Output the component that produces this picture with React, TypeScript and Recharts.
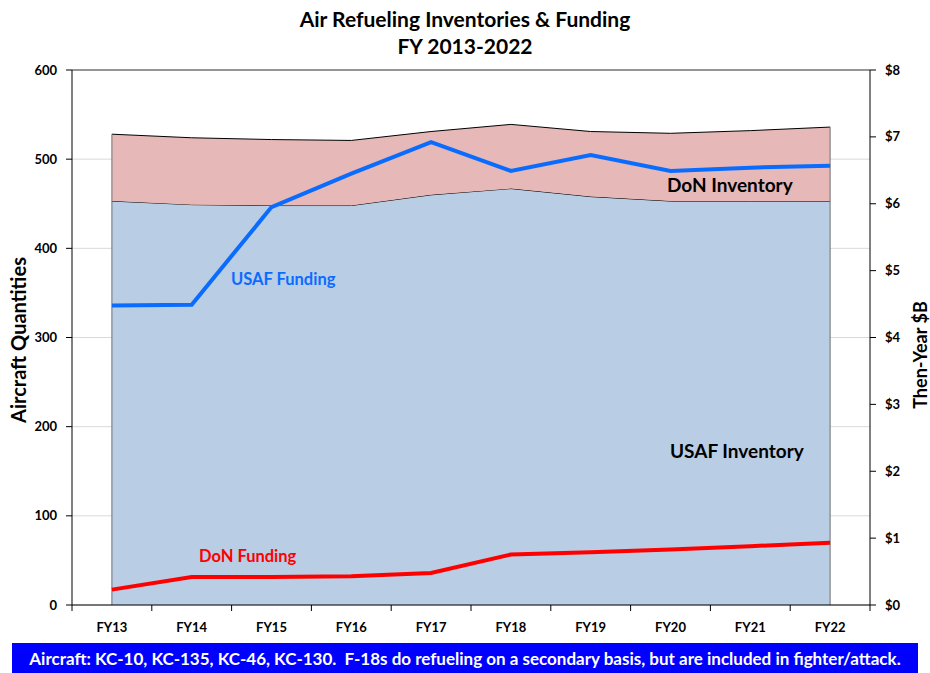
import React from 'react'
import {
  ComposedChart, Area, Line, XAxis, YAxis, CartesianGrid, ReferenceLine,
} from 'recharts'

const years = ['FY13', 'FY14', 'FY15', 'FY16', 'FY17', 'FY18', 'FY19', 'FY20', 'FY21', 'FY22']
const usafInventory = [453, 449, 448, 448, 460, 467, 458, 453, 453, 453]
const donInventory = [75, 75, 74, 73, 71, 72, 73, 76, 79, 83]
const usafFunding = [4.48, 4.49, 5.95, 6.45, 6.92, 6.49, 6.73, 6.49, 6.54, 6.57]
const donFunding = [0.23, 0.42, 0.42, 0.43, 0.48, 0.755, 0.79, 0.83, 0.88, 0.93]
const qtyTicks = [0, 100, 200, 300, 400, 500, 600]
const dollarTicks = [0, 1, 2, 3, 4, 5, 6, 7, 8]

const data = years.map((fy, i) => ({
  fy,
  usafInv: usafInventory[i],
  donInv: donInventory[i],
  usafFund: usafFunding[i],
  donFund: donFunding[i],
}))

const FONT = 'Lato, "Open Sans", sans-serif'
const W = 930
const H = 673
const PLOT_LEFT = 72
const PLOT_RIGHT = 870
const PLOT_TOP = 70
const PLOT_BOTTOM = 605
const BAND = (PLOT_RIGHT - PLOT_LEFT) / years.length

const XTick = (props: any) => {
  const { x, index } = props
  const axisY = PLOT_BOTTOM
  return (
    <g>
      <line x1={x - BAND / 2} x2={x - BAND / 2} y1={axisY} y2={axisY + 6} stroke="#000" />
      {index === years.length - 1 && (
        <line x1={x + BAND / 2} x2={x + BAND / 2} y1={axisY} y2={axisY + 6} stroke="#000" />
      )}
      <text x={x} y={axisY + 27} textAnchor="middle" fontFamily={FONT} fontWeight={700} fontSize={13} fill="#000">
        {props.payload.value}
      </text>
    </g>
  )
}

const label = (text: string, left: number, top: number, color: string, size = 16) => (
  <div style={{
    position: 'absolute', left, top, color, fontFamily: FONT, fontWeight: 700,
    fontSize: size, whiteSpace: 'nowrap', lineHeight: 1,
  }}>{text}</div>
)

export default function App() {
  const first = data[0]
  const last = data[data.length - 1]
  return (
    <div style={{ position: 'absolute', left: 0, top: 0, width: W, height: H, background: '#fff', overflow: 'hidden' }}>
      <div style={{
        position: 'absolute', left: 0, width: W, top: 5, textAlign: 'center',
        fontFamily: FONT, fontWeight: 700, fontSize: 21, lineHeight: '27px', color: '#000',
      }}>
        <div>Air Refueling Inventories &amp; Funding</div>
        <div>FY 2013-2022</div>
      </div>

      <div style={{ position: 'absolute', left: 0, top: 0 }}>
        <ComposedChart
          width={W}
          height={H}
          data={data}
          margin={{ top: PLOT_TOP, right: 0, bottom: 0, left: 0 }}
        >
          <CartesianGrid yAxisId="qty" vertical={false} stroke="#D9D9D9" />
          <XAxis
            dataKey="fy"
            height={H - PLOT_BOTTOM}
            axisLine={{ stroke: '#000' }}
            tickLine={false}
            tick={<XTick />}
            interval={0}
            padding={{ left: BAND / 2, right: BAND / 2 }}
          />
          <YAxis
            yAxisId="qty"
            width={PLOT_LEFT}
            domain={[0, 600]}
            ticks={qtyTicks}
            axisLine={{ stroke: '#000' }}
            tickLine={{ stroke: '#000' }}
            tickSize={6}
            tickMargin={9}
            tick={{ fontFamily: FONT, fontWeight: 700, fontSize: 13, fill: '#000' }}
          />
          <YAxis
            yAxisId="usd"
            orientation="right"
            width={W - PLOT_RIGHT}
            domain={[0, 8]}
            ticks={dollarTicks}
            axisLine={{ stroke: '#000' }}
            tickLine={{ stroke: '#000' }}
            tickSize={6}
            tickMargin={9}
            tickFormatter={(v) => `$${v}`}
            tick={{ fontFamily: FONT, fontWeight: 700, fontSize: 13, fill: '#000', textAnchor: 'start' }}
          />
          <ReferenceLine yAxisId="qty" y={600} stroke="#404040" />
          <Area
            yAxisId="qty" type="linear" dataKey="usafInv" stackId="inv"
            fill="#B9CDE5" fillOpacity={1} stroke="#000" strokeWidth={1}
            isAnimationActive={false}
          />
          <Area
            yAxisId="qty" type="linear" dataKey="donInv" stackId="inv"
            fill="#E6B9B8" fillOpacity={1} stroke="#000" strokeWidth={1}
            isAnimationActive={false}
          />
          <ReferenceLine
            yAxisId="qty"
            segment={[{ x: first.fy, y: 0 }, { x: first.fy, y: first.usafInv + first.donInv }]}
            stroke="#707070"
          />
          <ReferenceLine
            yAxisId="qty"
            segment={[{ x: last.fy, y: 0 }, { x: last.fy, y: last.usafInv + last.donInv }]}
            stroke="#707070"
          />
          <Line
            yAxisId="usd" type="linear" dataKey="usafFund" stroke="#0A6CFF"
            strokeWidth={4} dot={false} isAnimationActive={false}
          />
          <Line
            yAxisId="usd" type="linear" dataKey="donFund" stroke="#FF0000"
            strokeWidth={4} dot={false} isAnimationActive={false}
          />
        </ComposedChart>
      </div>

      {label('USAF Funding', 231, 271, '#0A6CFF', 16.5)}
      {label('DoN Inventory', 667, 175, '#000', 19)}
      {label('USAF Inventory', 670, 441, '#000', 19)}
      {label('DoN Funding', 199, 548, '#FF0000', 16.5)}

      <div style={{
        position: 'absolute', left: 0, top: 245, width: 36, height: 190,
        display: 'flex', alignItems: 'center', justifyContent: 'center',
      }}>
        <div style={{
          transform: 'rotate(-90deg)', whiteSpace: 'nowrap', fontFamily: FONT,
          fontWeight: 700, fontSize: 20, color: '#000',
        }}>Aircraft Quantities</div>
      </div>
      <div style={{
        position: 'absolute', left: 902, top: 270, width: 36, height: 170,
        display: 'flex', alignItems: 'center', justifyContent: 'center',
      }}>
        <div style={{
          transform: 'rotate(-90deg)', whiteSpace: 'nowrap', fontFamily: FONT,
          fontWeight: 700, fontSize: 18, color: '#000',
        }}>Then-Year $B</div>
      </div>

      <div style={{
        position: 'absolute', left: 12, top: 643, width: 906, height: 30,
        background: '#0000FF', color: '#fff', fontFamily: FONT, fontWeight: 700,
        fontSize: 17, display: 'flex', alignItems: 'center', justifyContent: 'center',
        whiteSpace: 'nowrap',
      }}>
        Aircraft: KC-10, KC-135, KC-46, KC-130.&nbsp; F-18s do refueling on a secondary basis, but are included in fighter/attack.
      </div>
    </div>
  )
}
